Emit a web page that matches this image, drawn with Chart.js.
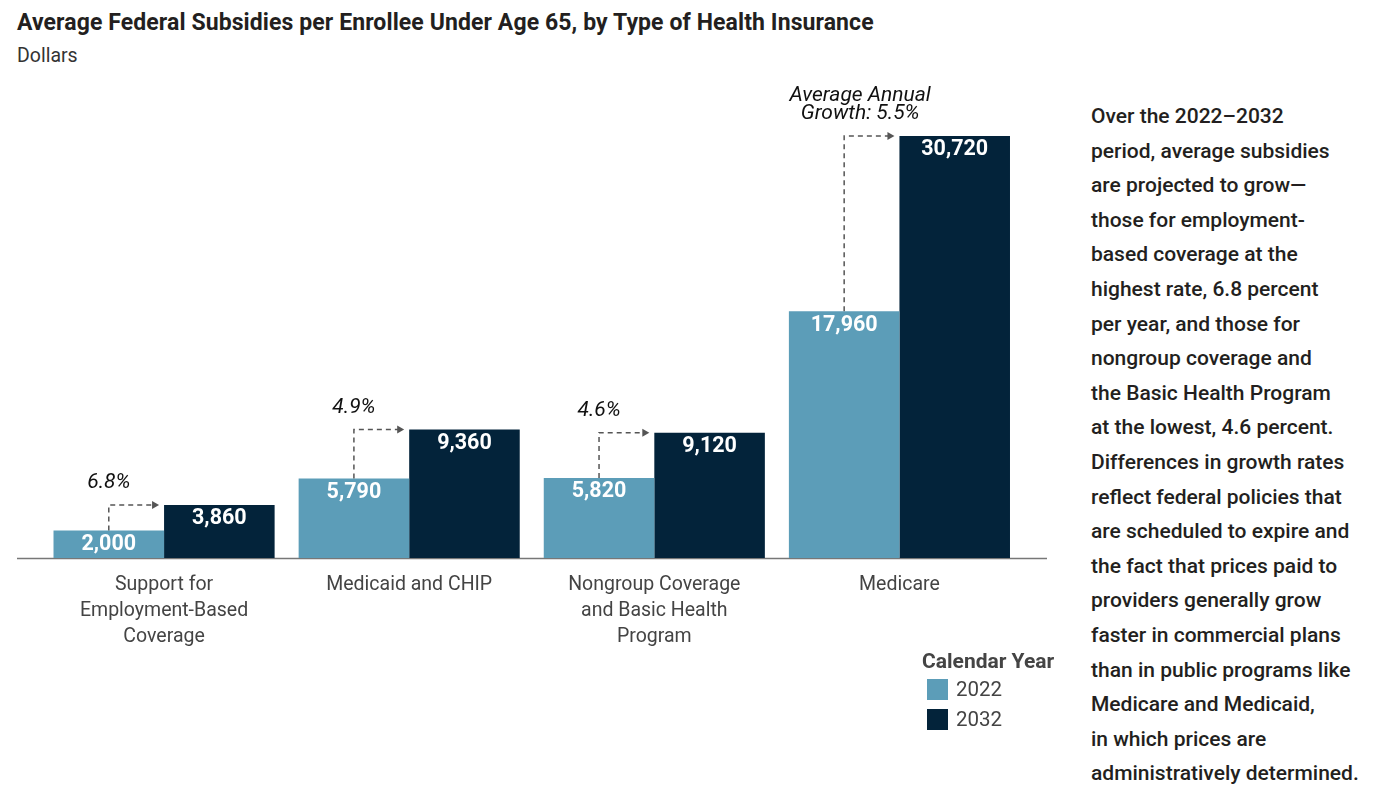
<!DOCTYPE html>
<html>
<head>
<meta charset="utf-8">
<script src="https://cdn.jsdelivr.net/npm/chart.js@4.4.1/dist/chart.umd.min.js"></script>
<style>
  html, body { margin: 0; padding: 0; background: #fff; }
  body { width: 1376px; height: 804px; position: relative; overflow: hidden; font-family: Roboto, "Noto Sans", sans-serif; }
  #title { position: absolute; left: 17px; top: 8px; font-size: 23px; font-weight: 700; color: #231f20; line-height: 30px; white-space: nowrap; letter-spacing: 0.1px; }
  #subtitle { position: absolute; left: 17px; top: 43px; font-size: 19.5px; color: #333; line-height: 26px; }
  #chartBox { position: absolute; left: 0; top: 0; width: 1060px; height: 680px; }
  #legend { position: absolute; left: 922px; top: 648px; color: #444; font-size: 20.5px; }
  #legend .ttl { font-weight: 700; font-size: 21px; line-height: 26px; }
  #legend .row { display: flex; align-items: center; height: 30px; margin-left: 5px; }
  #legend .sw { width: 21px; height: 21px; margin-right: 8px; }
  #note { position: absolute; left: 1091px; top: 99px; font-size: 21px; font-weight: 500; line-height: 34.6px; color: #231f20; white-space: nowrap; }
</style>
</head>
<body>
<div id="title">Average Federal Subsidies per Enrollee Under Age 65, by Type of Health Insurance</div>
<div id="subtitle">Dollars</div>
<div id="chartBox"><canvas id="subsidyChart"></canvas></div>
<div id="legend"></div>
<div id="note">
Over the 2022–2032<br>
period, average subsidies<br>
are projected to grow—<br>
those for employment-<br>
based coverage at the<br>
highest rate, 6.8 percent<br>
per year, and those for<br>
nongroup coverage and<br>
the Basic Health Program<br>
at the lowest, 4.6 percent.<br>
Differences in growth rates<br>
reflect federal policies that<br>
are scheduled to expire and<br>
the fact that prices paid to<br>
providers generally grow<br>
faster in commercial plans<br>
than in public programs like<br>
Medicare and Medicaid,<br>
in which prices are<br>
administratively determined.
</div>
<script>
"use strict";

// ---------------- DATA ----------------
const categories = [
  ["Support for", "Employment-Based", "Coverage"],
  "Medicaid and CHIP",
  ["Nongroup Coverage", "and Basic Health", "Program"],
  "Medicare",
];
const years = ["2022", "2032"];
const values2022 = [2000, 5790, 5820, 17960];
const values2032 = [3860, 9360, 9120, 30720];
const growthLabels = ["6.8%", "4.9%", "4.6%", ["Average Annual", "Growth: 5.5%"]];

const colors = ["#5c9db8", "#03233a"];
const fmt = new Intl.NumberFormat("en-US");

// ---------------- LEGEND (html) ----------------
const legendEl = document.getElementById("legend");
legendEl.innerHTML =
  '<div class="ttl">Calendar Year</div>' +
  years
    .map((y, i) => `<div class="row"><span class="sw" style="background:${colors[i]}"></span>${y}</div>`)
    .join("");

// ---------------- PLUGIN: baseline, value labels, growth arrows ----------------
const decorations = {
  id: "decorations",
  beforeDatasetsDraw(chart) {
    const { ctx, chartArea } = chart;
    ctx.save();
    ctx.strokeStyle = "#777";
    ctx.lineWidth = 1.5;
    ctx.beginPath();
    ctx.moveTo(17, chartArea.bottom + 0.5);
    ctx.lineTo(1047, chartArea.bottom + 0.5);
    ctx.stroke();
    ctx.restore();
  },
  afterDatasetsDraw(chart) {
    const { ctx } = chart;
    const m0 = chart.getDatasetMeta(0).data;
    const m1 = chart.getDatasetMeta(1).data;

    ctx.save();
    // value labels
    ctx.fillStyle = "#fff";
    ctx.font = "bold 21.5px Roboto";
    ctx.textAlign = "center";
    ctx.textBaseline = "middle";
    [m0, m1].forEach((bars, di) => {
      const vals = di === 0 ? values2022 : values2032;
      bars.forEach((b, i) => ctx.fillText(fmt.format(vals[i]), b.x, b.y + 14));
    });

    // growth arrows
    m0.forEach((b, i) => {
      const t = m1[i];
      const x0 = b.x;
      const yTop = t.y;
      const xEnd = t.x - t.width / 2 - 5;
      ctx.strokeStyle = "#555";
      ctx.lineWidth = 1.5;
      ctx.setLineDash([5, 4]);
      ctx.beginPath();
      ctx.moveTo(x0, b.y);
      ctx.lineTo(x0, yTop);
      ctx.lineTo(xEnd - 6, yTop);
      ctx.stroke();
      ctx.setLineDash([]);
      ctx.fillStyle = "#555";
      ctx.beginPath();
      ctx.moveTo(xEnd, yTop);
      ctx.lineTo(xEnd - 7, yTop - 4);
      ctx.lineTo(xEnd - 7, yTop + 4);
      ctx.closePath();
      ctx.fill();

      // label
      const lines = [].concat(growthLabels[i]);
      ctx.fillStyle = "#111";
      ctx.font = "italic 21px Roboto";
      const cx = lines.length > 1 ? x0 + 16 : x0;
      lines.forEach((ln, k) => {
        ctx.fillText(ln, cx, yTop - 22 - (lines.length - 1 - k) * 18);
      });
    });
    ctx.restore();
  },
};

// ---------------- CHART ----------------
const ctx = document.getElementById("subsidyChart").getContext("2d");
new Chart(ctx, {
  type: "bar",
  data: {
    labels: categories,
    datasets: [
      { label: years[0], data: values2022, backgroundColor: colors[0], categoryPercentage: 0.902, barPercentage: 1 },
      { label: years[1], data: values2032, backgroundColor: colors[1], categoryPercentage: 0.902, barPercentage: 1 },
    ],
  },
  options: {
    responsive: true,
    maintainAspectRatio: false,
    animation: false,
    layout: { padding: { left: 41.5, right: 38, top: 136, bottom: 12 } },
    plugins: { legend: { display: false }, tooltip: { enabled: false } },
    scales: {
      y: { display: false, min: 0, max: 30720 },
      x: {
        grid: { display: false },
        border: { display: false },
        afterFit: (scale) => { scale.height = 110; },
        ticks: {
          padding: 6,
          color: "#444",
          maxRotation: 0,
          autoSkip: false,
          font: { family: "Roboto", size: 19.5, lineHeight: 26 / 19.5 },
        },
      },
    },
  },
  plugins: [decorations],
});
</script>
</body>
</html>
